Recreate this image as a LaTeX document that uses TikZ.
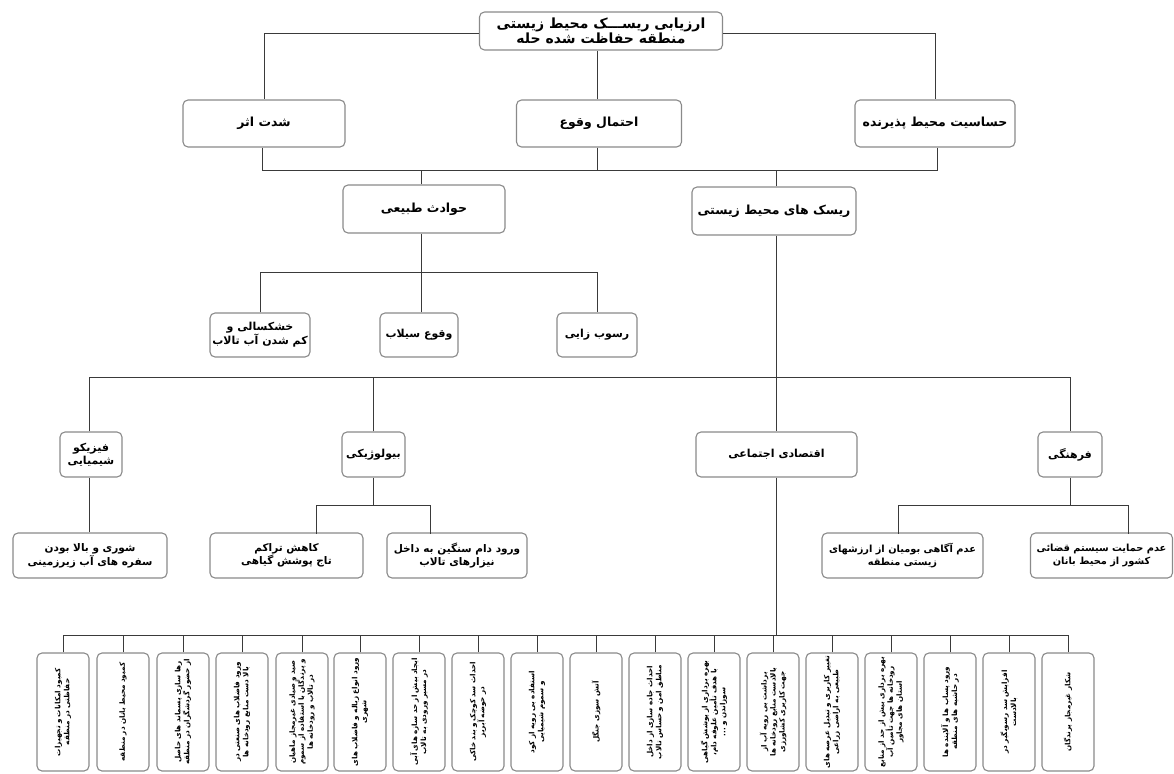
\documentclass[tikz,border=0pt]{standalone}
\usepackage{fontspec}
\newfontfamily\arabicfont[Script=Arabic]{DejaVu Sans}
\TeXXeTstate=1
\newcommand{\fatxt}[1]{{\arabicfont\beginR #1\endR}}
\definecolor{boxgray}{HTML}{8A8A8A}
\definecolor{linegray}{HTML}{3A3A3A}
\begin{document}
\begin{tikzpicture}[x=1pt,y=-1pt,
  box/.style={draw=boxgray, line width=1.1pt, rounded corners=5pt, fill=white, align=center, inner sep=1.5pt, font=\bfseries\fontsize{12.5}{14}\selectfont},
  fsmall/.style={font=\bfseries\fontsize{11}{13}\selectfont},
  fsix/.style={font=\bfseries\fontsize{10.5}{12.5}\selectfont},
  fsixs/.style={font=\bfseries\fontsize{9.8}{12.5}\selectfont},
  vbox/.style={box, rotate=90, minimum width=118, minimum height=52, text width=114, font=\bfseries\fontsize{7.2}{9}\selectfont},
  conn/.style={draw=linegray, line width=0.9pt}]
\useasboundingbox (0,0) rectangle (1174,773);
% level 1
\node[box, minimum width=243, minimum height=38, font=\bfseries\fontsize{14}{15.5}\selectfont] (top) at (601,31) {\fatxt{ارزیابی ریســـک محیط زیستی}\\\fatxt{منطقه حفاظت شده حله}};
% level 2
\node[box, minimum width=162, minimum height=47] (shed) at (264,123.5) {\fatxt{شدت اثر}};
\node[box, minimum width=165, minimum height=47] (ehtemal) at (599,123.5) {\fatxt{احتمال وقوع}};
\node[box, minimum width=160, minimum height=47] (hasas) at (935,123.5) {\fatxt{حساسیت محیط پذیرنده}};
% level 3
\node[box, minimum width=162, minimum height=48] (havades) at (424,209) {\fatxt{حوادث طبیعی}};
\node[box, minimum width=164, minimum height=48] (risk) at (774,211) {\fatxt{ریسک های محیط زیستی}};
% level 4
\node[box, fsmall, minimum width=100, minimum height=44] (khoshk) at (260,335) {\fatxt{خشکسالی و}\\\fatxt{کم شدن آب تالاب}};
\node[box, fsmall, minimum width=78, minimum height=44] (seilab) at (419,335) {\fatxt{وقوع سیلاب}};
\node[box, fsmall, minimum width=80, minimum height=44] (rosub) at (597,335) {\fatxt{رسوب زایی}};
% level 5
\node[box, fsmall, minimum width=62, minimum height=45] (fiz) at (91,454.5) {\fatxt{فیزیکو}\\\fatxt{شیمیایی}};
\node[box, fsmall, minimum width=63, minimum height=45] (bio) at (373.5,454.5) {\fatxt{بیولوژیکی}};
\node[box, fsmall, minimum width=161, minimum height=45] (eqt) at (776.5,454.5) {\fatxt{اقتصادی اجتماعی}};
\node[box, fsmall, minimum width=64, minimum height=45] (farh) at (1070,454.5) {\fatxt{فرهنگی}};
% level 6
\node[box, fsix, minimum width=154, minimum height=45] (shuri) at (90,555.5) {\fatxt{شوری و بالا بودن}\\\fatxt{سفره های آب زیرزمینی}};
\node[box, fsix, minimum width=153, minimum height=45] (kahesh) at (286.5,555.5) {\fatxt{کاهش تراکم}\\\fatxt{تاج پوشش گیاهی}};
\node[box, fsix, minimum width=140, minimum height=45] (dam) at (457,555.5) {\fatxt{ورود دام سنگین به داخل}\\\fatxt{نیزارهای تالاب}};
\node[box, fsixs, minimum width=161, minimum height=45] (agahi) at (902.5,555.5) {\fatxt{عدم آگاهی بومیان از ارزشهای}\\\fatxt{زیستی منطقه}};
\node[box, fsixs, minimum width=142, minimum height=45] (hemayat) at (1101.5,555.5) {\fatxt{عدم حمایت سیستم قضائی}\\\fatxt{کشور از محیط بانان}};
% bottom row
\node[vbox] (b1) at (63,712) {\fatxt{کمبود امکانات و تجهیزات}\\\fatxt{حفاظتی در منطقه}};
\node[vbox] (b2) at (123,712) {\fatxt{کمبود محیط بانان در منطقه}};
\node[vbox] (b3) at (183,712) {\fatxt{رها سازی پسماند های حاصل}\\\fatxt{از حضور گردشگران در منطقه}};
\node[vbox] (b4) at (242,712) {\fatxt{ورود فاضلاب های صنعتی در}\\\fatxt{بالا دست منابع رودخانه ها}};
\node[vbox] (b5) at (302,712) {\fatxt{صید و صیادی غیرمجاز ماهیان}\\\fatxt{و پرندگان با استفاده از سموم}\\\fatxt{در تالاب و رودخانه ها}};
\node[vbox] (b6) at (360,712) {\fatxt{ورود انواع زباله و فاضلاب های}\\\fatxt{شهری}};
\node[vbox] (b7) at (419,712) {\fatxt{ایجاد بیش از حد سازه های آبی}\\\fatxt{در مسیر ورودی به تالاب}};
\node[vbox] (b8) at (478,712) {\fatxt{احداث سد کوچک و بند خاکی}\\\fatxt{در حوضه آبریز}};
\node[vbox] (b9) at (537,712) {\fatxt{استفاده بی رویه از کود}\\\fatxt{و سموم شیمیایی}};
\node[vbox] (b10) at (596,712) {\fatxt{آتش سوزی جنگل}};
\node[vbox] (b11) at (655,712) {\fatxt{احداث جاده سازی از داخل}\\\fatxt{مناطق امن و حساس تالاب}};
\node[vbox] (b12) at (714,712) {\fatxt{بهره برداری از پوشش گیاهی}\\\fatxt{با هدف تأمین علوفه دام،}\\\fatxt{سوزاندن و ...}};
\node[vbox] (b13) at (773,712) {\fatxt{برداشت بی رویه آب از}\\\fatxt{بالادست منابع رودخانه ها}\\\fatxt{جهت کاربری کشاورزی}};
\node[vbox] (b14) at (832,712) {\fatxt{تغییر کاربری و تبدیل عرصه های}\\\fatxt{طبیعی به اراضی زراعی}};
\node[vbox] (b15) at (891,712) {\fatxt{بهره برداری بیش از حد از منابع}\\\fatxt{رودخانه ها جهت تأمین آب}\\\fatxt{استان های مجاور}};
\node[vbox] (b16) at (950,712) {\fatxt{ورود پساب ها و آلاینده ها}\\\fatxt{در حاشیه های منطقه}};
\node[vbox] (b17) at (1009,712) {\fatxt{افزایش سد رسوبگیر در}\\\fatxt{بالادست}};
\node[vbox] (b18) at (1068,712) {\fatxt{شکار غیرمجاز پرندگان}};
% junction coordinates
\coordinate (j1) at (0,33);
\coordinate (j2) at (0,170);
\coordinate (j3) at (0,272);
\coordinate (j4) at (0,377);
\coordinate (j5) at (0,505);
\coordinate (j6) at (0,635);
\coordinate (kt) at (316,533.5);
\coordinate (dt) at (430,533.5);
\coordinate (at) at (898,533.5);
\coordinate (ht) at (1128,533.5);
% connectors
\draw[conn] (top.west |- j1) -| (shed.north);
\draw[conn] (top.east |- j1) -| (hasas.north);
\draw[conn] (ehtemal.north -| 597,0) -- (597,0 |- top.south);
\draw[conn] (shed.south -| 262,0) -- (262,0 |- j2) -- (937,0 |- j2) -- (hasas.south -| 937,0);
\draw[conn] (ehtemal.south -| 597,0) -- (597,0 |- j2);
\draw[conn] (havades.north -| 421,0) -- (421,0 |- j2);
\draw[conn] (risk.north -| 776,0) -- (776,0 |- j2);
\draw[conn] (havades.south -| 421,0) -- (421,0 |- j3);
\draw[conn] (khoshk.north) -- (khoshk.north |- j3) -- (597,0 |- j3) -- (rosub.north -| 597,0);
\draw[conn] (seilab.north -| 421,0) -- (421,0 |- j3);
\draw[conn] (risk.south -| 776,0) -- (eqt.north -| 776,0);
\draw[conn] (fiz.north -| 89,0) -- (89,0 |- j4) -- (1070,0 |- j4) -- (farh.north);
\draw[conn] (bio.north -| 373,0) -- (373,0 |- j4);
\draw[conn] (eqt.south -| 776,0) -- (776,0 |- j6);
\draw[conn] (fiz.south -| 89,0) -- (shuri.north -| 89,0);
\draw[conn] (bio.south -| 373,0) -- (373,0 |- j5);
\draw[conn] (kt) -- (kt |- j5) -- (dt |- j5) -- (dt);
\draw[conn] (farh.south) -- (farh.south |- j5);
\draw[conn] (at) -- (at |- j5) -- (ht |- j5) -- (ht);
\draw[conn] (b1.east |- j6) -- (b18.east |- j6);
\foreach \i in {1,...,18} {\draw[conn] (b\i.east) -- (b\i.east |- j6);}
\end{tikzpicture}
\end{document}
